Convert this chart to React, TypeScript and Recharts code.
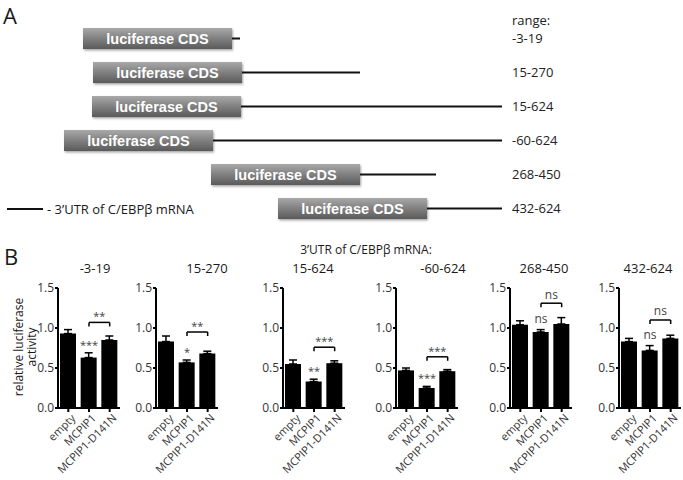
import React from 'react';
import { BarChart, Bar, XAxis, YAxis, ErrorBar, ReferenceLine, ReferenceDot } from 'recharts';

const ranges = ['-3-19', '15-270', '15-624', '-60-624', '268-450', '432-624'];

// panel A: construct layout, in diagram units
const cdsStart = [83, 93, 92, 64, 211, 278];
const cdsLength = [149, 149, 149, 149, 149, 149];
const utrLength = [8, 118, 261, 289, 76, 75];

// panel B: relative luciferase activity (mean, SEM)
const groups = ['empty', 'MCPIP1', 'MCPIP1-D141N'];
const emptyMean = [0.93, 0.83, 0.55, 0.47, 1.04, 0.83];
const emptySem = [0.05, 0.07, 0.05, 0.03, 0.05, 0.04];
const mcpip1Mean = [0.63, 0.57, 0.33, 0.25, 0.95, 0.72];
const mcpip1Sem = [0.06, 0.03, 0.03, 0.02, 0.03, 0.06];
const d141nMean = [0.85, 0.68, 0.56, 0.46, 1.05, 0.87];
const d141nSem = [0.05, 0.03, 0.03, 0.02, 0.08, 0.04];
const mcpip1Sig = ['***', '*', '**', '***', 'ns', 'ns'];
const bracketSig = ['**', '**', '***', '***', 'ns', 'ns'];
const bracketLevel = [1.07, 0.95, 0.76, 0.64, 1.31, 1.1];
const yTicks = [0, 0.5, 1.0, 1.5];

// layout of the small charts
const axisX = [58, 156, 283, 396, 510, 619];
const titleX = [95, 207, 313, 443, 544, 648];
const Y_AXIS_W = 36;

const font = '"Open Sans", sans-serif';

const Txt = (props: { x: number; y: number; size?: number; center?: boolean; children: any }) => (
    <div style={{
        position: 'absolute', left: props.x, top: props.y,
        transform: `translate(${props.center === false ? '0' : '-50%'}, -50%)`,
        fontSize: props.size || 13, lineHeight: 1, whiteSpace: 'nowrap'
    }}>{props.children}</div>
);

const CdsBox = (p: any) => (
    <g>
        <rect x={p.x} y={p.y} width={p.width} height={p.height} fill="url(#cdsFill)" filter="url(#cdsShadow)"/>
        <text x={p.x + p.width / 2} y={p.y + p.height / 2} dy="0.36em" textAnchor="middle" fill="#fff"
              fontSize={14.5} fontWeight="bold" fontFamily="'Liberation Sans', Arial, sans-serif">luciferase CDS</text>
    </g>
);

const UtrLine = (p: any) => (
    <rect x={p.x} y={p.y + p.height / 2 - 1} width={p.width} height={2} fill="#111"/>
);

const RangeTick = (p: any) => (
    <g fontFamily={font} fontSize={13} fill="#222">
        {p.index === 0 && <text x={p.x} y={p.y - 18} dy="0.35em">range:</text>}
        <text x={p.x} y={p.y} dy="0.35em">{p.payload.value}</text>
    </g>
);

const GroupTick = (p: any) => (
    <g transform={`translate(${p.x + 5},${p.y + 2})`}>
        <text textAnchor="end" transform="rotate(-45)" dy="0.35em" fontSize={11} fill="#333" fontFamily={font}>
            {p.payload.value}
        </text>
    </g>
);

// text centred above a point (or above the middle of a segment)
const sigLabel = (text: string, lift: number) => (p: any) => {
    const vb = p.viewBox || {};
    const ns = text === 'ns';
    const cx = vb.x + (vb.width || 0) / 2;
    return <text x={cx} y={vb.y - lift} dy={ns ? '0.28em' : '0.55em'} textAnchor="middle"
                 fontSize={ns ? 12 : 11} fill="#444" fontFamily={font}>{text}</text>;
};

function Scheme() {
    const data = ranges.map((r, i) => ({ range: r, offset: cdsStart[i], cds: cdsLength[i], utr: utrLength[i] }));
    return <div style={{ position: 'absolute', left: 0, top: 0 }}>
        <BarChart layout="vertical" width={683} height={230} data={data} barSize={21}
                  margin={{ top: 21, right: 0, bottom: 5, left: 0 }}>
            <defs>
                <linearGradient id="cdsFill" x1="0" y1="0" x2="0" y2="1">
                    <stop offset="0%" stopColor="#a9a9a9"/>
                    <stop offset="50%" stopColor="#808080"/>
                    <stop offset="100%" stopColor="#5a5a5a"/>
                </linearGradient>
                <filter id="cdsShadow" x="-5%" y="-20%" width="110%" height="150%">
                    <feDropShadow dx="1" dy="1.5" stdDeviation="1" floodOpacity="0.35"/>
                </filter>
            </defs>
            <XAxis type="number" domain={[0, 505]} allowDataOverflow hide/>
            <YAxis type="category" dataKey="range" orientation="right" width={178} axisLine={false}
                   tickLine={false} tickSize={0} tickMargin={7} tick={<RangeTick/>}/>
            <Bar dataKey="offset" stackId="a" fill="transparent" isAnimationActive={false}/>
            <Bar dataKey="cds" stackId="a" shape={CdsBox} isAnimationActive={false}/>
            <Bar dataKey="utr" stackId="a" shape={UtrLine} isAnimationActive={false}/>
        </BarChart>
    </div>
}

function ActivityChart(props: { i: number }) {
    const i = props.i;
    const means = [emptyMean[i], mcpip1Mean[i], d141nMean[i]];
    const sems = [emptySem[i], mcpip1Sem[i], d141nSem[i]];
    const data = groups.map((g, k) => ({ group: g, mean: means[k], err: [0, sems[k]] }));
    const lvl = bracketLevel[i];
    const line = { stroke: '#000', strokeWidth: 1.5, ifOverflow: 'visible' as const };
    return <div style={{ position: 'absolute', left: axisX[i] - Y_AXIS_W, top: 278 }}>
        <BarChart width={100} height={202} data={data} barSize={16}
                  margin={{ top: 10, right: 2, bottom: 0, left: 0 }}>
            <XAxis dataKey="group" interval={0} height={72} tick={<GroupTick/>} tickSize={4} tickMargin={2}
                   axisLine={{ stroke: '#000', strokeWidth: 2 }} tickLine={{ stroke: '#000', strokeWidth: 2 }}/>
            <YAxis width={Y_AXIS_W} domain={[0, 1.5]} ticks={yTicks} allowDataOverflow interval={0}
                   tickFormatter={(v: number) => v.toFixed(1)} tickSize={3} tickMargin={1}
                   tick={{ fontSize: 12, fill: '#333', fontFamily: font }}
                   axisLine={{ stroke: '#000', strokeWidth: 2 }} tickLine={{ stroke: '#000', strokeWidth: 2 }}/>
            <Bar dataKey="mean" fill="#000" isAnimationActive={false}>
                <ErrorBar dataKey="err" width={4} stroke="#000" strokeWidth={1.5} isAnimationActive={false}/>
            </Bar>
            <ReferenceLine segment={[{ x: groups[1], y: lvl }, { x: groups[2], y: lvl }]} {...line}
                           label={sigLabel(bracketSig[i], 8)}/>
            <ReferenceLine segment={[{ x: groups[1], y: lvl }, { x: groups[1], y: lvl - 0.05 }]} {...line}/>
            <ReferenceLine segment={[{ x: groups[2], y: lvl }, { x: groups[2], y: lvl - 0.05 }]} {...line}/>
            <ReferenceDot x={groups[1]} y={mcpip1Mean[i] + mcpip1Sem[i]} r={0} fill="none" stroke="none"
                          ifOverflow="visible" label={sigLabel(mcpip1Sig[i], 10)}/>
        </BarChart>
    </div>
}

export default function App() {
    return (
        <div style={{
            position: 'absolute', left: 0, top: 0, width: 683, height: 480, overflow: 'hidden',
            background: '#fff', fontFamily: font, color: '#1a1a1a'
        }}>
            <Txt x={3} y={15} size={22} center={false}>A</Txt>
            <Scheme/>
            <div style={{ position: 'absolute', left: 7, top: 208, width: 36, height: 2, background: '#111' }}/>
            <Txt x={47} y={209} center={false}>- 3’UTR of C/EBPβ mRNA</Txt>

            <Txt x={4} y={256} size={22} center={false}>B</Txt>
            <Txt x={366} y={250} size={12}>3’UTR of C/EBPβ mRNA:</Txt>
            {ranges.map((r, i) => <Txt key={r} x={titleX[i]} y={268}>{r}</Txt>)}
            <div style={{
                position: 'absolute', left: 25, top: 347, transform: 'translate(-50%,-50%) rotate(-90deg)',
                fontSize: 12, lineHeight: '13px', textAlign: 'center', whiteSpace: 'nowrap'
            }}>relative luciferase<br/>activity</div>
            {ranges.map((r, i) => <ActivityChart key={r} i={i}/>)}
        </div>
    );
}
